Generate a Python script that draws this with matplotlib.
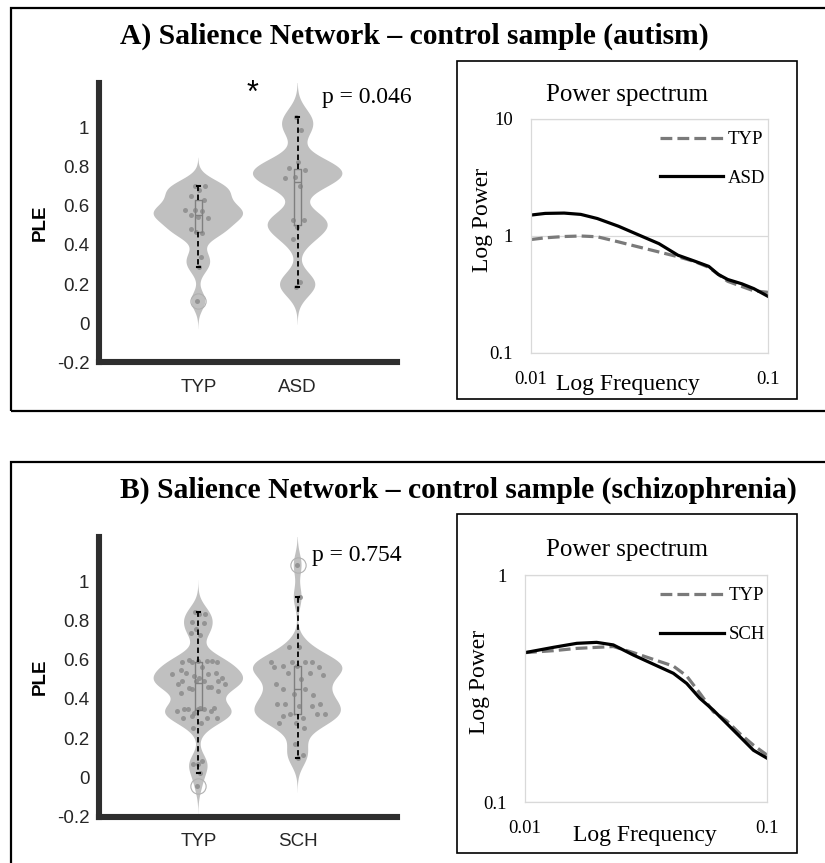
import numpy as np
import matplotlib
matplotlib.use("Agg")
import matplotlib.pyplot as plt
from matplotlib.patches import Rectangle
from matplotlib.ticker import NullLocator

plt.rcParams['font.family'] = ['Liberation Sans', 'DejaVu Sans']
SERIF = ['Liberation Serif', 'DejaVu Serif']

# PLE values (one entry per dot)
a_typ = [0.70, 0.70, 0.68, 0.65, 0.63, 0.58, 0.58, 0.57, 0.55, 0.535, 0.54,
         0.48, 0.46, 0.465, 0.34, 0.287, 0.114]
a_asd = [1.05, 0.985, 0.82, 0.79, 0.78, 0.745, 0.74, 0.70, 0.525, 0.525,
         0.49, 0.43, 0.21, 0.185]
b_typ = [0.845, 0.83, 0.83, 0.794, 0.784, 0.755, 0.738, 0.725,
         0.60, 0.594, 0.594, 0.589, 0.594, 0.589, 0.589, 0.56, 0.546, 0.534,
         0.517, 0.526, 0.526, 0.534, 0.505, 0.505, 0.474, 0.461, 0.449, 0.474,
         0.491, 0.491, 0.491, 0.491, 0.429, 0.461, 0.454, 0.441,
         0.355, 0.347, 0.338, 0.326, 0.338, 0.347, 0.347, 0.355, 0.347, 0.304,
         0.304, 0.313, 0.304, 0.279, 0.25,
         0.083, 0.066, 0.066, 0.02, -0.044]
b_sch = [1.083, 0.917, 0.662, 0.662,
         0.589, 0.589, 0.589, 0.589, 0.568, 0.56, 0.568, 0.56,
         0.534, 0.534, 0.52, 0.50,
         0.449, 0.42, 0.426, 0.474, 0.449,
         0.372, 0.372, 0.364, 0.372, 0.364,
         0.321, 0.321, 0.30, 0.313, 0.321,
         0.279, 0.279, 0.253, 0.168, 0.112, 0.097]

group_a = ['TYP', 'ASD']
group_b = ['TYP', 'SCH']
ple_ticks = [-0.2, 0, 0.2, 0.4, 0.6, 0.8, 1]
ple_labels = ['-0.2', '0', '0.2', '0.4', '0.6', '0.8', '1']

# power spectra
freq_a = [0.0100, 0.01148, 0.01380, 0.01622, 0.01905, 0.02344, 0.02818, 0.03467,
          0.04169, 0.04898, 0.05623, 0.06166, 0.06761, 0.07762, 0.08710, 0.1000]
pow_a_typ = [0.933, 0.965, 0.99, 1.0, 0.985, 0.89, 0.81, 0.73,
             0.665, 0.605, 0.54, 0.47, 0.41, 0.37, 0.34, 0.33]
pow_a_asd = [1.51, 1.56, 1.57, 1.53, 1.41, 1.21, 1.03, 0.86,
             0.685, 0.61, 0.55, 0.47, 0.425, 0.39, 0.355, 0.305]

freq_b = [0.0100, 0.01309, 0.01637, 0.01977, 0.02317, 0.02805, 0.03388, 0.04102,
          0.04656, 0.05284, 0.05998, 0.06808, 0.07727, 0.08790, 0.1000]
pow_b_typ = [0.455, 0.464, 0.475, 0.48, 0.484, 0.455, 0.425, 0.397,
             0.359, 0.301, 0.25, 0.228, 0.20, 0.178, 0.161]
pow_b_sch = [0.455, 0.48, 0.50, 0.505, 0.492, 0.444, 0.405, 0.369,
             0.333, 0.286, 0.254, 0.222, 0.194, 0.169, 0.156]

W, H = 825, 863
fig = plt.figure(figsize=(W / 100, H / 100), dpi=100)


def px(x0, y0, x1, y1):
    # pixel box (top-left origin) -> figure rect
    return [x0 / W, 1 - y1 / H, (x1 - x0) / W, (y1 - y0) / H]


def kde(v, grid, bw):
    z = (grid[:, None] - v[None, :]) / bw
    return np.exp(-0.5 * z ** 2).sum(axis=1) / (len(v) * bw * np.sqrt(2 * np.pi))


def violin_panel(rect, groups, labels, bws, jit, label_y):
    ax = fig.add_axes(rect)
    stats = []
    for vals, bw in zip(groups, bws):
        v = np.asarray(vals)
        coords = np.linspace(v.min() - 3.2 * bw, v.max() + 3.2 * bw, 300)
        stats.append(dict(coords=coords, vals=kde(v, coords, bw), mean=v.mean(),
                          median=np.median(v), min=v.min(), max=v.max()))
    parts = ax.violin(stats, positions=[1, 2], widths=0.9, showmeans=False,
                      showextrema=False, showmedians=False)
    for body in parts['bodies']:
        body.set_facecolor('#c0c0c0')
        body.set_edgecolor('none')
        body.set_alpha(1)
        body.set_zorder(1)

    # dots spread inside the violin (deterministic low-discrepancy offsets)
    for pos, vals, st in zip([1, 2], groups, stats):
        v = np.asarray(vals)
        dens = np.interp(v, st['coords'], st['vals']) / st['vals'].max()
        k = np.arange(len(v))
        pattern = ((k * 0.618034 + 0.3) % 1) * 2 - 1
        ax.scatter(pos + pattern * dens * jit, v, s=13, color='#8c8c8c',
                   alpha=0.85, lw=0, zorder=2)

    ax.boxplot(groups, positions=[1, 2], widths=0.07, whis=1.5,
               manage_ticks=False, capwidths=0.035,
               boxprops=dict(color='#7f7f7f', lw=1),
               medianprops=dict(color='#7f7f7f', lw=1),
               whiskerprops=dict(color='black', lw=1.3, ls=(0, (3, 2))),
               capprops=dict(color='black', lw=1.5),
               flierprops=dict(marker='o', markersize=11, mfc='none',
                               mec='#b0b0b0', mew=0.8),
               zorder=3)

    ax.set_xlim(0, 3)
    ax.set_ylim(-0.2, 1.225)
    ax.set_xticks([1, 2], labels)
    ax.set_yticks(ple_ticks, ple_labels)
    for s in ['top', 'right']:
        ax.spines[s].set_visible(False)
    for s in ['left', 'bottom']:
        ax.spines[s].set_linewidth(4.4)
        ax.spines[s].set_color('#2e2e2e')
    ax.tick_params(length=0, labelsize=13.5, colors='#262626')
    ax.tick_params(axis='y', pad=7)
    ax.tick_params(axis='x', pad=12)
    ax.set_ylabel('PLE', fontsize=13.5, fontweight='bold')
    ax.yaxis.set_label_coords(-0.17, label_y)
    ax.patch.set_visible(False)
    return ax


def spectrum_panel(rect, freq, typ, other, other_name, ylim, yticks, ylabels,
                   xlab_xy, ylab_xy):
    ax = fig.add_axes(rect)
    ax.loglog(freq, typ, color='#7a7a7a', ls='--', lw=2.3, label='TYP')
    ax.loglog(freq, other, color='black', lw=2.3, label=other_name)
    ax.set_xlim(0.01, 0.1)
    ax.set_ylim(*ylim)
    ax.xaxis.set_minor_locator(NullLocator())
    ax.yaxis.set_minor_locator(NullLocator())
    ax.set_xticks([0.01, 0.1], ['0.01', '0.1'])
    ax.set_yticks(yticks, ylabels)
    ax.yaxis.grid(True, color='#d9d9d9', lw=0.9)
    for s in ax.spines.values():
        s.set_color('#d9d9d9')
        s.set_linewidth(0.9)
    ax.tick_params(length=0, labelsize=13.5)
    ax.tick_params(axis='y', pad=13)
    ax.tick_params(axis='x', pad=13)
    for t in ax.get_xticklabels() + ax.get_yticklabels():
        t.set_fontfamily(SERIF)
    ax.set_xlabel('Log Frequency', fontsize=17, fontfamily=SERIF)
    ax.xaxis.set_label_coords(*xlab_xy)
    ax.set_ylabel('Log Power', fontsize=17, fontfamily=SERIF)
    ax.yaxis.set_label_coords(*ylab_xy)
    ax.legend(loc='upper right', bbox_to_anchor=(1.06, 1.02), frameon=False,
              handlelength=3.4, handletextpad=0.25, labelspacing=1.15,
              prop=dict(family=SERIF, size=13.5))
    return ax


# outer panel frames
fig.add_artist(Rectangle((11 / W, 1 - 411 / H), (840 - 11) / W, (411 - 8) / H,
                         transform=fig.transFigure, fill=False, lw=1.6, ec='black'))
fig.add_artist(Rectangle((11 / W, 1 - 880 / H), (840 - 11) / W, (880 - 462) / H,
                         transform=fig.transFigure, fill=False, lw=1.6, ec='black'))
# inner spectrum frames
fig.add_artist(Rectangle((457 / W, 1 - 399 / H), 340 / W, 338 / H,
                         transform=fig.transFigure, fill=False, lw=1.2, ec='black'))
fig.add_artist(Rectangle((457 / W, 1 - 853 / H), 340 / W, 339 / H,
                         transform=fig.transFigure, fill=False, lw=1.2, ec='black'))

# titles
fig.text(120 / W, 1 - 36 / H, 'A) Salience Network \u2013 control sample (autism)',
         fontsize=21.3, fontweight='bold', fontfamily=SERIF, ha='left', va='center')
fig.text(120 / W, 1 - 490 / H, 'B) Salience Network \u2013 control sample (schizophrenia)',
         fontsize=21.3, fontweight='bold', fontfamily=SERIF, ha='left', va='center')

# panel A
violin_panel(px(99, 83, 397, 362.5), [a_typ, a_asd], group_a, [0.045, 0.06], 0.14, 0.5)
fig.text(253 / W, 1 - 94 / H, '*', fontsize=22, ha='center', va='center')
fig.text(367 / W, 1 - 98 / H, 'p = 0.046', fontsize=17, fontfamily=SERIF,
         ha='center', va='center')
fig.text(627 / W, 1 - 95 / H, 'Power spectrum', fontsize=18, fontfamily=SERIF,
         ha='center', va='center')
spectrum_panel(px(531, 119, 768, 353), freq_a, pow_a_typ, pow_a_asd, 'ASD',
               (0.1, 10), [0.1, 1, 10], ['0.1', '1', '10'],
               (0.41, -0.09), (-0.16, 0.57))

# panel B
violin_panel(px(99, 537, 397, 816.5), [b_typ, b_sch], group_b, [0.05, 0.055], 0.3, 0.5)
fig.text(357 / W, 1 - 555 / H, 'p = 0.754', fontsize=17, fontfamily=SERIF,
         ha='center', va='center')
fig.text(627 / W, 1 - 550 / H, 'Power spectrum', fontsize=18, fontfamily=SERIF,
         ha='center', va='center')
spectrum_panel(px(525, 575, 767, 802), freq_b, pow_b_typ, pow_b_sch, 'SCH',
               (0.1, 1), [0.1, 1], ['0.1', '1'],
               (0.495, -0.1), (-0.145, 0.53))

fig.savefig('out.png', dpi=100)
